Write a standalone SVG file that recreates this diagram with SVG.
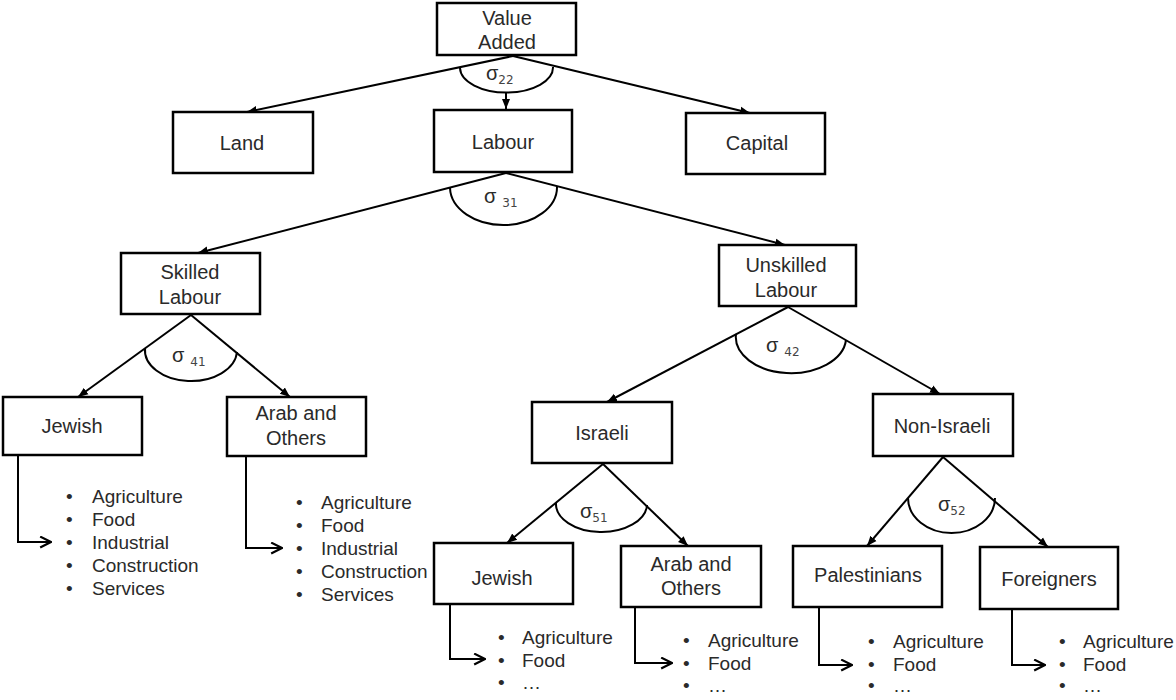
<svg xmlns="http://www.w3.org/2000/svg" width="1176" height="700" viewBox="0 0 1176 700">
<style>
.box{fill:#fff;stroke:#000;stroke-width:2.5}
.lbl{font-family:"Liberation Sans",Arial,sans-serif;font-size:20px;fill:#2a2a2a;text-anchor:middle}
.li{font-family:"Liberation Sans",Arial,sans-serif;font-size:19px;fill:#2a2a2a}
.ln{fill:none;stroke:#000;stroke-width:2}
.sg{font-family:"Liberation Sans",Arial,sans-serif;font-size:20px;fill:#2a2a2a}
.sub{font-family:"DejaVu Sans",sans-serif;font-size:12px;fill:#444}
</style>
<defs>
<marker id="ah" viewBox="0 0 10 10" refX="10" refY="5" markerWidth="10" markerHeight="10" markerUnits="userSpaceOnUse" orient="auto"><path d="M0,1 L10,5 L0,9 z" fill="#000"/></marker>
<marker id="oa" viewBox="0 0 12 12" refX="11" refY="6" markerWidth="13" markerHeight="13" markerUnits="userSpaceOnUse" orient="auto"><path d="M1,1 L11,6 L1,11" fill="none" stroke="#000" stroke-width="2"/></marker>
</defs>
<rect width="1176" height="700" fill="#fff"/>

<g id="connectors">
  <line class="ln" x1="513" y1="56" x2="247" y2="112" marker-end="url(#ah)"/>
  <line class="ln" x1="513" y1="56" x2="750" y2="113" marker-end="url(#ah)"/>
  <line class="ln" x1="506" y1="92" x2="506" y2="109" marker-end="url(#ah)"/>
  <path class="ln" d="M460,68 A46.5 25 0 0 0 553,67"/>
  <line class="ln" x1="506" y1="173" x2="198" y2="253" marker-end="url(#ah)"/>
  <line class="ln" x1="506" y1="173" x2="785" y2="245" marker-end="url(#ah)"/>
  <path class="ln" d="M450,188 A53.5 38 0 0 0 557,186"/>
  <line class="ln" x1="191" y1="315" x2="78" y2="397" marker-end="url(#ah)"/>
  <line class="ln" x1="191" y1="315" x2="290" y2="397" marker-end="url(#ah)"/>
  <path class="ln" d="M145,348 A46 31 0 0 0 237,352"/>
  <line class="ln" x1="788" y1="307" x2="607" y2="402" marker-end="url(#ah)"/>
  <line class="ln" x1="788" y1="307" x2="940" y2="394" marker-end="url(#ah)"/>
  <path class="ln" d="M736,334 A55 36 0 0 0 846,340"/>
  <line class="ln" x1="603" y1="464" x2="507" y2="543" marker-end="url(#ah)"/>
  <line class="ln" x1="603" y1="464" x2="688" y2="546" marker-end="url(#ah)"/>
  <path class="ln" d="M556,503 A45.5 28 0 0 0 647,505"/>
  <line class="ln" x1="943" y1="457" x2="867" y2="546" marker-end="url(#ah)"/>
  <line class="ln" x1="943" y1="457" x2="1048" y2="547" marker-end="url(#ah)"/>
  <path class="ln" d="M908,498 A43.5 35 0 0 0 995,498"/>
  <path class="ln" d="M18,455 V542 H51" marker-end="url(#oa)"/>
  <path class="ln" d="M246,456 V548 H282" marker-end="url(#oa)"/>
  <path class="ln" d="M450,604 V659 H485" marker-end="url(#oa)"/>
  <path class="ln" d="M635,607 V663 H672" marker-end="url(#oa)"/>
  <path class="ln" d="M819,607 V665 H852" marker-end="url(#oa)"/>
  <path class="ln" d="M1012,609 V665 H1045" marker-end="url(#oa)"/>
  <text class="sg" x="486" y="80">σ<tspan class="sub" dy="4">22</tspan></text>
  <text class="sg" x="484" y="203">σ<tspan class="sub" dx="6" dy="4">31</tspan></text>
  <text class="sg" x="172" y="362">σ<tspan class="sub" dx="6" dy="4">41</tspan></text>
  <text class="sg" x="766" y="352">σ<tspan class="sub" dx="6" dy="4">42</tspan></text>
  <text class="sg" x="580" y="518">σ<tspan class="sub" dy="4">51</tspan></text>
  <text class="sg" x="938" y="511">σ<tspan class="sub" dy="4">52</tspan></text>
</g>

<g id="value-added"><rect class="box" x="437" y="3" width="139" height="52"/><text class="lbl" x="507" y="25">Value</text><text class="lbl" x="507" y="49">Added</text></g>
<g id="land"><rect class="box" x="173" y="112" width="140" height="61"/><text class="lbl" x="242" y="150">Land</text></g>
<g id="labour"><rect class="box" x="434" y="110" width="138" height="62"/><text class="lbl" x="503" y="149">Labour</text></g>
<g id="capital"><rect class="box" x="686" y="113" width="139" height="61"/><text class="lbl" x="757" y="150">Capital</text></g>
<g id="skilled"><rect class="box" x="121" y="253" width="139" height="61"/><text class="lbl" x="190" y="279">Skilled</text><text class="lbl" x="190" y="304">Labour</text></g>
<g id="unskilled"><rect class="box" x="719" y="245" width="137" height="61"/><text class="lbl" x="786" y="272">Unskilled</text><text class="lbl" x="786" y="297">Labour</text></g>
<g id="jewish-s"><rect class="box" x="3" y="397" width="139" height="58"/><text class="lbl" x="72" y="433">Jewish</text></g>
<g id="arab-s"><rect class="box" x="227" y="397" width="139" height="59"/><text class="lbl" x="296" y="420">Arab and</text><text class="lbl" x="296" y="445">Others</text></g>
<g id="israeli"><rect class="box" x="532" y="402" width="140" height="61"/><text class="lbl" x="602" y="440">Israeli</text></g>
<g id="non-israeli"><rect class="box" x="873" y="394" width="140" height="62"/><text class="lbl" x="942" y="433">Non-Israeli</text></g>
<g id="jewish-u"><rect class="box" x="434" y="543" width="139" height="61"/><text class="lbl" x="502" y="585">Jewish</text></g>
<g id="arab-u"><rect class="box" x="621" y="546" width="140" height="61"/><text class="lbl" x="691" y="571">Arab and</text><text class="lbl" x="691" y="595">Others</text></g>
<g id="palestinians"><rect class="box" x="793" y="546" width="149" height="61"/><text class="lbl" x="868" y="582">Palestinians</text></g>
<g id="foreigners"><rect class="box" x="980" y="547" width="138" height="62"/><text class="lbl" x="1049" y="586">Foreigners</text></g>

<g id="list-jewish-s">
  <text class="li" x="66" y="503">•</text><text class="li" x="92" y="503">Agriculture</text>
  <text class="li" x="66" y="526">•</text><text class="li" x="92" y="526">Food</text>
  <text class="li" x="66" y="549">•</text><text class="li" x="92" y="549">Industrial</text>
  <text class="li" x="66" y="572">•</text><text class="li" x="92" y="572">Construction</text>
  <text class="li" x="66" y="595">•</text><text class="li" x="92" y="595">Services</text>
</g>
<g id="list-arab-s">
  <text class="li" x="296" y="509">•</text><text class="li" x="321" y="509">Agriculture</text>
  <text class="li" x="296" y="532">•</text><text class="li" x="321" y="532">Food</text>
  <text class="li" x="296" y="555">•</text><text class="li" x="321" y="555">Industrial</text>
  <text class="li" x="296" y="578">•</text><text class="li" x="321" y="578">Construction</text>
  <text class="li" x="296" y="601">•</text><text class="li" x="321" y="601">Services</text>
</g>
<g id="list-jewish-u">
  <text class="li" x="498" y="644">•</text><text class="li" x="522" y="644">Agriculture</text>
  <text class="li" x="498" y="667">•</text><text class="li" x="522" y="667">Food</text>
  <text class="li" x="498" y="689">•</text><text class="li" x="522" y="689">…</text>
</g>
<g id="list-arab-u">
  <text class="li" x="683" y="647">•</text><text class="li" x="708" y="647">Agriculture</text>
  <text class="li" x="683" y="670">•</text><text class="li" x="708" y="670">Food</text>
  <text class="li" x="683" y="692">•</text><text class="li" x="708" y="692">…</text>
</g>
<g id="list-palestinians">
  <text class="li" x="868" y="648">•</text><text class="li" x="893" y="648">Agriculture</text>
  <text class="li" x="868" y="671">•</text><text class="li" x="893" y="671">Food</text>
  <text class="li" x="868" y="692">•</text><text class="li" x="893" y="692">…</text>
</g>
<g id="list-foreigners">
  <text class="li" x="1059" y="648">•</text><text class="li" x="1083" y="648">Agriculture</text>
  <text class="li" x="1059" y="671">•</text><text class="li" x="1083" y="671">Food</text>
  <text class="li" x="1059" y="692">•</text><text class="li" x="1083" y="692">…</text>
</g>
</svg>
